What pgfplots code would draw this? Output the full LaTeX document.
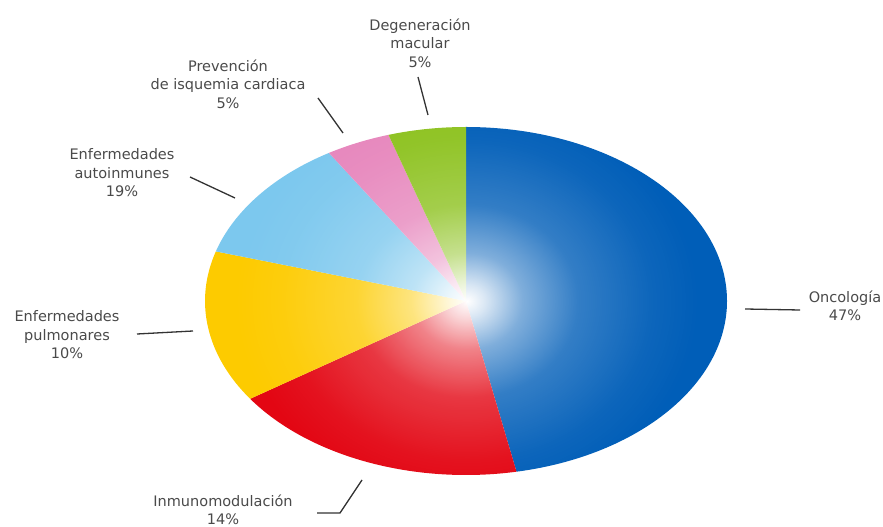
\documentclass[border=0pt]{standalone}
\usepackage{pgfplots}
\pgfplotsset{compat=1.18}
\usepackage{pgfplotstable}
\usetikzlibrary{fadings}
\usepackage{fontspec}
\setmainfont{DejaVu Sans}
\definecolor{pieA}{HTML}{005EB8}
\definecolor{pieB}{HTML}{E30613}
\definecolor{pieC}{HTML}{FDCB00}
\definecolor{pieD}{HTML}{7CC8EE}
\definecolor{pieE}{HTML}{E787BD}
\definecolor{pieF}{HTML}{8DC21F}
\definecolor{txt}{HTML}{4A4A4A}
\definecolor{lead}{HTML}{333333}
\pgfdeclareradialshading{glowshade}{\pgfpointorigin}{%
  color(0bp)=(white); color(2bp)=(white!85!black); color(6bp)=(white!50!black);
  color(12bp)=(white!20!black); color(20bp)=(white!5!black); color(25bp)=(black); color(50bp)=(black)}
\pgfdeclarefading{glow}{\pgfuseshading{glowshade}}

% slice shares (percent of the full ellipse), clockwise from 12 o'clock
\pgfplotstableread{
name value
Oncologia 46.9
Inmunomodulacion 18.6
Pulmonares 14.1
Autoinmunes 11.6
Isquemia 4.0
Macular 4.8
}\piedata

\newcommand\slice[3]{%
  \fill[#1] (axis cs:466,226) -- ++({261pt*cos(#2)},{174pt*sin(#2)})
    arc[start angle=#2, end angle=#3, x radius=261pt, y radius=174pt] -- cycle;}

\begin{document}
\xdef\cur{90}%
\foreach \i/\n in {0/A,1/B,2/C,3/D,4/E,5/F}{%
  \pgfplotstablegetelem{\i}{value}\of\piedata
  \pgfmathsetmacro\nxt{\cur-3.6*\pgfplotsretval}%
  \expandafter\xdef\csname sa\n\endcsname{\cur}%
  \expandafter\xdef\csname ea\n\endcsname{\nxt}%
  \xdef\cur{\nxt}%
}%
\begin{tikzpicture}
\begin{axis}[
  width=883pt, height=527pt, scale only axis,
  xmin=0, xmax=883, ymin=0, ymax=527,
  enlargelimits=false, hide axis, clip=false,
]
\slice{pieA}{\saA}{\eaA}
\slice{pieB}{\saB}{\eaB}
\slice{pieC}{\saC}{\eaC}
\slice{pieD}{\saD}{\eaD}
\slice{pieE}{\saE}{\eaE}
\slice{pieF}{\saF}{\eaF}
\fill[white, path fading=glow, fit fading=true] (axis cs:467,226) ellipse [x radius=230pt, y radius=200pt];

\begin{scope}[every node/.style={align=center, text=txt, font=\fontsize{14.5}{18.5}\selectfont}]
\node at (axis cs:420,484) {Degeneración\\macular\\5\%};
\node at (axis cs:228,443) {Prevención\\de isquemia cardiaca\\5\%};
\node at (axis cs:122,354) {Enfermedades\\autoinmunes\\19\%};
\node at (axis cs:67,192) {Enfermedades\\pulmonares\\10\%};
\node at (axis cs:223,17) {Inmunomodulación\\14\%};
\node at (axis cs:845,221) {Oncología\\47\%};
\end{scope}

\begin{scope}[lead, line width=1.3pt]
\draw (axis cs:418,450) -- (axis cs:428,412);
\draw (axis cs:318,429) -- (axis cs:343,394);
\draw (axis cs:190,350) -- (axis cs:235,329);
\draw (axis cs:137,193) -- (axis cs:193,196);
\draw (axis cs:317,14) -- (axis cs:340,14) -- (axis cs:362,47);
\draw (axis cs:745,218) -- (axis cs:800,217);
\end{scope}
\end{axis}
\pgfresetboundingbox
\path (0,0) rectangle (883pt,527pt);
\end{tikzpicture}
\end{document}
